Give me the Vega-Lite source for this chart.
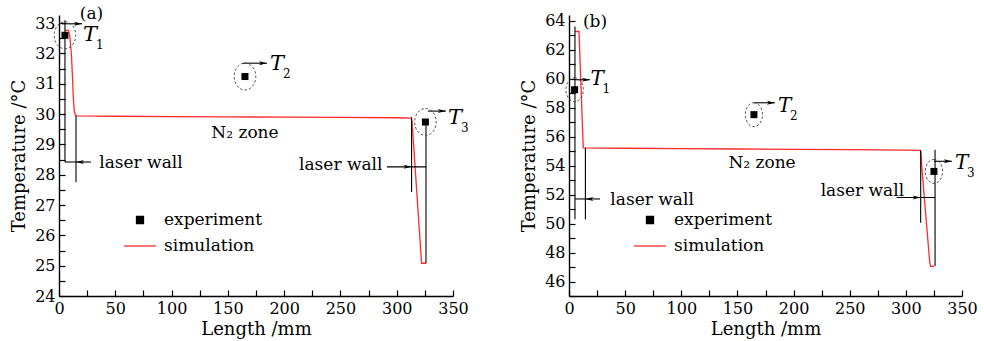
{
  "$schema": "https://vega.github.io/schema/vega-lite/v6.json",
  "padding": {"left": 10, "top": 5, "right": 2, "bottom": 2},
  "spacing": 116,
  "bounds": "flush",
  "config": {
    "view": {"stroke": null},
    "font": "DejaVu Serif",
    "axis": {"domainColor": "black", "domainWidth": 1.4, "tickColor": "black", "tickWidth": 1.2, "tickSize": -6, "labelFont": "DejaVu Serif", "labelFontSize": 16, "labelColor": "black", "titleFont": "DejaVu Serif", "titleFontSize": 18, "titleFontWeight": "normal", "titleColor": "black", "grid": false, "labelPadding": 10, "labelFlush": false, "labelOverlap": false},
    "text": {"font": "DejaVu Serif", "color": "black"}
  },
  "datasets": {
    "simA": [{"x":5.3,"y":32.76},{"x":8.4,"y":32.76},{"x":9.5,"y":32.6},{"x":11,"y":32.0},{"x":12,"y":31.2},{"x":12.8,"y":30.5},{"x":13.6,"y":30.1},{"x":14.5,"y":29.97},{"x":16,"y":29.94},{"x":50,"y":29.93},{"x":100,"y":29.92},{"x":150,"y":29.91},{"x":200,"y":29.9},{"x":250,"y":29.89},{"x":300,"y":29.88},{"x":312.8,"y":29.87},{"x":313.6,"y":29.75},{"x":322.1,"y":25.08},{"x":326,"y":25.08}],
    "expA": [{"x":5.3,"y":32.6},{"x":165.2,"y":31.24},{"x":325.5,"y":29.74}],
    "rulesA": [{"x":5.3,"y":33.1,"x2":5.3,"y2":28.42},{"x":15.1,"y":29.95,"x2":15.1,"y2":27.75},{"x":5.3,"y":28.42,"x2":28.4,"y2":28.42},{"x":2.7,"y":32.98,"x2":20.4,"y2":32.98},{"x":163.4,"y":31.68,"x2":184.7,"y2":31.68},{"x":327.7,"y":30.1,"x2":343.7,"y2":30.1},{"x":313.2,"y":29.9,"x2":313.2,"y2":27.43},{"x":326,"y":29.75,"x2":326,"y2":25.08},{"x":291.3,"y":28.26,"x2":326,"y2":28.26}],
    "arrowsA": [{"x":15.1,"y":28.42,"dir":"left"},{"x":20.4,"y":32.98,"dir":"right"},{"x":184.7,"y":31.68,"dir":"right"},{"x":343.7,"y":30.1,"dir":"right"},{"x":313.2,"y":28.26,"dir":"right"}],
    "tA": [{"x":21.3,"y":32.61,"sub":"1"},{"x":187.4,"y":31.66,"sub":"2"},{"x":345.5,"y":29.87,"sub":"3"}],
    "txtA": [{"x":28.9,"y":33.29,"label":"(a)"},{"x":72.8,"y":28.39,"label":"laser wall"},{"x":250.3,"y":28.32,"label":"laser wall"},{"x":165.2,"y":29.38,"label":"N₂ zone"}],
    "simB": [{"x":5.3,"y":63.26},{"x":8.9,"y":63.26},{"x":12.7,"y":55.22},{"x":50,"y":55.2},{"x":100,"y":55.17},{"x":150,"y":55.15},{"x":200,"y":55.12},{"x":250,"y":55.1},{"x":300,"y":55.07},{"x":312.6,"y":55.06},{"x":313.4,"y":54.9},{"x":314.6,"y":53.5},{"x":321.3,"y":47.3},{"x":322,"y":47.05},{"x":325,"y":47.05}],
    "expB": [{"x":5,"y":59.24},{"x":164.7,"y":57.52},{"x":325,"y":53.6}],
    "rulesB": [{"x":5.3,"y":63.6,"x2":5.3,"y2":50.3},{"x":14.6,"y":55.22,"x2":14.6,"y2":50.3},{"x":5.3,"y":51.7,"x2":27.6,"y2":51.7},{"x":5.3,"y":59.93,"x2":18.7,"y2":59.93},{"x":164.7,"y":58.34,"x2":183.4,"y2":58.34},{"x":325,"y":54.3,"x2":341,"y2":54.3},{"x":313.2,"y":55.06,"x2":313.2,"y2":50.05},{"x":326,"y":55.1,"x2":326,"y2":47.05},{"x":291.8,"y":51.8,"x2":326,"y2":51.8}],
    "arrowsB": [{"x":14.6,"y":51.7,"dir":"left"},{"x":18.7,"y":59.93,"dir":"right"},{"x":183.4,"y":58.34,"dir":"right"},{"x":341,"y":54.3,"dir":"right"},{"x":313.2,"y":51.8,"dir":"right"}],
    "tB": [{"x":19.2,"y":59.97,"sub":"1"},{"x":186.1,"y":58.14,"sub":"2"},{"x":343.7,"y":54.17,"sub":"3"}],
    "txtB": [{"x":23.2,"y":63.93,"label":"(b)"},{"x":74.0,"y":51.66,"label":"laser wall"},{"x":261.3,"y":52.28,"label":"laser wall"},{"x":171.9,"y":54.2,"label":"N₂ zone"}]
  },
  "resolve": {"scale": {"color": "independent", "shape": "independent"}, "legend": {"color": "independent"}},
  "hconcat": [
    {
      "width": 394, "height": 281,
      "encoding": {
        "x": {"field": "x", "type": "quantitative", "scale": {"domain": [0, 350], "nice": false, "zero": false},
              "axis": {"title": "Length /mm", "values": [0,25,50,75,100,125,150,175,200,225,250,275,300,325,350], "labelExpr": "datum.value % 50 === 0 ? format(datum.value, 'd') : ''", "titlePadding": 4,
                       "encode": {"ticks": {"y2": {"condition": {"test": "datum.value % 50 === 0", "value": -6}, "value": -3}}}}},
        "y": {"field": "y", "type": "quantitative", "scale": {"domain": [24, 33.27], "nice": false, "zero": false},
              "axis": {"title": "Temperature /°C", "values": [24,24.5,25,25.5,26,26.5,27,27.5,28,28.5,29,29.5,30,30.5,31,31.5,32,32.5,33], "labelExpr": "datum.value % 1 === 0 ? format(datum.value, 'd') : ''", "titlePadding": 6,
                       "encode": {"ticks": {"x2": {"condition": {"test": "datum.value % 1 === 0", "value": 6}, "value": 3}}}}}
      },
      "layer": [
        {"data": {"name": "simA"}, "mark": {"type": "line", "strokeWidth": 1.3},
         "encoding": {
           "color": {"datum": "simulation", "type": "nominal", "scale": {"domain": ["experiment", "simulation"], "range": ["black", "#ff2a2a"]},
                     "legend": {"orient": "none", "legendX": 64, "legendY": 188, "title": null, "padding": 0, "symbolSize": 1024, "symbolStrokeWidth": 1.3, "labelFont": "DejaVu Serif", "labelFontSize": 17, "labelOffset": 7, "rowPadding": 1, "labelColor": "black",
                                "encode": {"symbols": {"update": {"shape": {"signal": "datum.value === 'experiment' ? 'square' : 'stroke'"}, "size": {"signal": "datum.value === 'experiment' ? 49 : 1024"}, "fill": {"signal": "datum.value === 'experiment' ? 'black' : 'transparent'"}, "stroke": {"signal": "datum.value === 'experiment' ? 'black' : '#ff2a2a'"}, "strokeWidth": {"value": 1.3}, "opacity": {"value": 1}}}}}}
         }},
        {"data": {"name": "rulesA"}, "mark": {"type": "rule", "color": "black", "strokeWidth": 1.1},
         "encoding": {"x2": {"field": "x2"}, "y2": {"field": "y2"}}},
        {"data": {"name": "arrowsA"}, "mark": {"type": "point", "filled": true, "color": "black", "size": 64, "opacity": 1},
         "encoding": {"shape": {"field": "dir", "type": "nominal", "scale": {"domain": ["left", "right"], "range": ["M 0 0 L 2 -0.5 L 1.5 0 L 2 0.5 Z", "M 0 0 L -2 -0.5 L -1.5 0 L -2 0.5 Z"]}, "legend": null}}},
        {"data": {"name": "expA"}, "mark": {"type": "point", "shape": "square", "filled": true, "size": 49, "opacity": 1},
         "encoding": {"color": {"datum": "experiment", "type": "nominal", "scale": {"domain": ["experiment", "simulation"], "range": ["black", "#ff2a2a"]}}}},
        {"data": {"name": "expA"}, "mark": {"type": "point", "shape": "M 0 -1 A 0.8 1 0 1 1 0 1 A 0.8 1 0 1 1 0 -1 Z", "filled": false, "fill": null, "size": 729, "stroke": "#444", "strokeWidth": 0.9, "strokeDash": [2.5, 2], "opacity": 1}},
        {"data": {"name": "tA"}, "mark": {"type": "text", "text": "T", "fontStyle": "italic", "fontSize": 21, "align": "left", "baseline": "middle"}},
        {"data": {"name": "tA"}, "mark": {"type": "text", "fontSize": 12, "align": "left", "baseline": "middle", "dx": 13, "dy": 10},
         "encoding": {"text": {"field": "sub"}}},
        {"data": {"name": "txtA"}, "mark": {"type": "text", "fontSize": 17, "align": "center", "baseline": "middle"},
         "encoding": {"text": {"field": "label"}}}
      ]
    },
    {
      "width": 393, "height": 281,
      "encoding": {
        "x": {"field": "x", "type": "quantitative", "scale": {"domain": [0, 350], "nice": false, "zero": false},
              "axis": {"title": "Length /mm", "values": [0,25,50,75,100,125,150,175,200,225,250,275,300,325,350], "labelExpr": "datum.value % 50 === 0 ? format(datum.value, 'd') : ''", "titlePadding": 4,
                       "encode": {"ticks": {"y2": {"condition": {"test": "datum.value % 50 === 0", "value": -6}, "value": -3}}}}},
        "y": {"field": "y", "type": "quantitative", "scale": {"domain": [45, 64.4], "nice": false, "zero": false},
              "axis": {"title": "Temperature /°C", "values": [45,46,47,48,49,50,51,52,53,54,55,56,57,58,59,60,61,62,63,64], "labelExpr": "datum.value % 2 === 0 ? format(datum.value, 'd') : ''", "titlePadding": 6,
                       "encode": {"ticks": {"x2": {"condition": {"test": "datum.value % 2 === 0", "value": 6}, "value": 3}}}}}
      },
      "layer": [
        {"data": {"name": "simB"}, "mark": {"type": "line", "strokeWidth": 1.3},
         "encoding": {
           "color": {"datum": "simulation", "type": "nominal", "scale": {"domain": ["experiment", "simulation"], "range": ["black", "#ff2a2a"]},
                     "legend": {"orient": "none", "legendX": 64, "legendY": 188, "title": null, "padding": 0, "symbolSize": 1024, "symbolStrokeWidth": 1.3, "labelFont": "DejaVu Serif", "labelFontSize": 17, "labelOffset": 7, "rowPadding": 1, "labelColor": "black",
                                "encode": {"symbols": {"update": {"shape": {"signal": "datum.value === 'experiment' ? 'square' : 'stroke'"}, "size": {"signal": "datum.value === 'experiment' ? 49 : 1024"}, "fill": {"signal": "datum.value === 'experiment' ? 'black' : 'transparent'"}, "stroke": {"signal": "datum.value === 'experiment' ? 'black' : '#ff2a2a'"}, "strokeWidth": {"value": 1.3}, "opacity": {"value": 1}}}}}}
         }},
        {"data": {"name": "rulesB"}, "mark": {"type": "rule", "color": "black", "strokeWidth": 1.1},
         "encoding": {"x2": {"field": "x2"}, "y2": {"field": "y2"}}},
        {"data": {"name": "arrowsB"}, "mark": {"type": "point", "filled": true, "color": "black", "size": 64, "opacity": 1},
         "encoding": {"shape": {"field": "dir", "type": "nominal", "scale": {"domain": ["left", "right"], "range": ["M 0 0 L 2 -0.5 L 1.5 0 L 2 0.5 Z", "M 0 0 L -2 -0.5 L -1.5 0 L -2 0.5 Z"]}, "legend": null}}},
        {"data": {"name": "expB"}, "mark": {"type": "point", "shape": "square", "filled": true, "size": 49, "opacity": 1},
         "encoding": {"color": {"datum": "experiment", "type": "nominal", "scale": {"domain": ["experiment", "simulation"], "range": ["black", "#ff2a2a"]}}}},
        {"data": {"name": "expB"}, "mark": {"type": "point", "shape": "M 0 -1 A 0.72 1 0 1 1 0 1 A 0.72 1 0 1 1 0 -1 Z", "filled": false, "fill": null, "size": 576, "stroke": "#444", "strokeWidth": 0.9, "strokeDash": [2.5, 2], "opacity": 1}},
        {"data": {"name": "tB"}, "mark": {"type": "text", "text": "T", "fontStyle": "italic", "fontSize": 20, "align": "left", "baseline": "middle"}},
        {"data": {"name": "tB"}, "mark": {"type": "text", "fontSize": 12, "align": "left", "baseline": "middle", "dx": 12, "dy": 10},
         "encoding": {"text": {"field": "sub"}}},
        {"data": {"name": "txtB"}, "mark": {"type": "text", "fontSize": 17, "align": "center", "baseline": "middle"},
         "encoding": {"text": {"field": "label"}}}
      ]
    }
  ]
}
